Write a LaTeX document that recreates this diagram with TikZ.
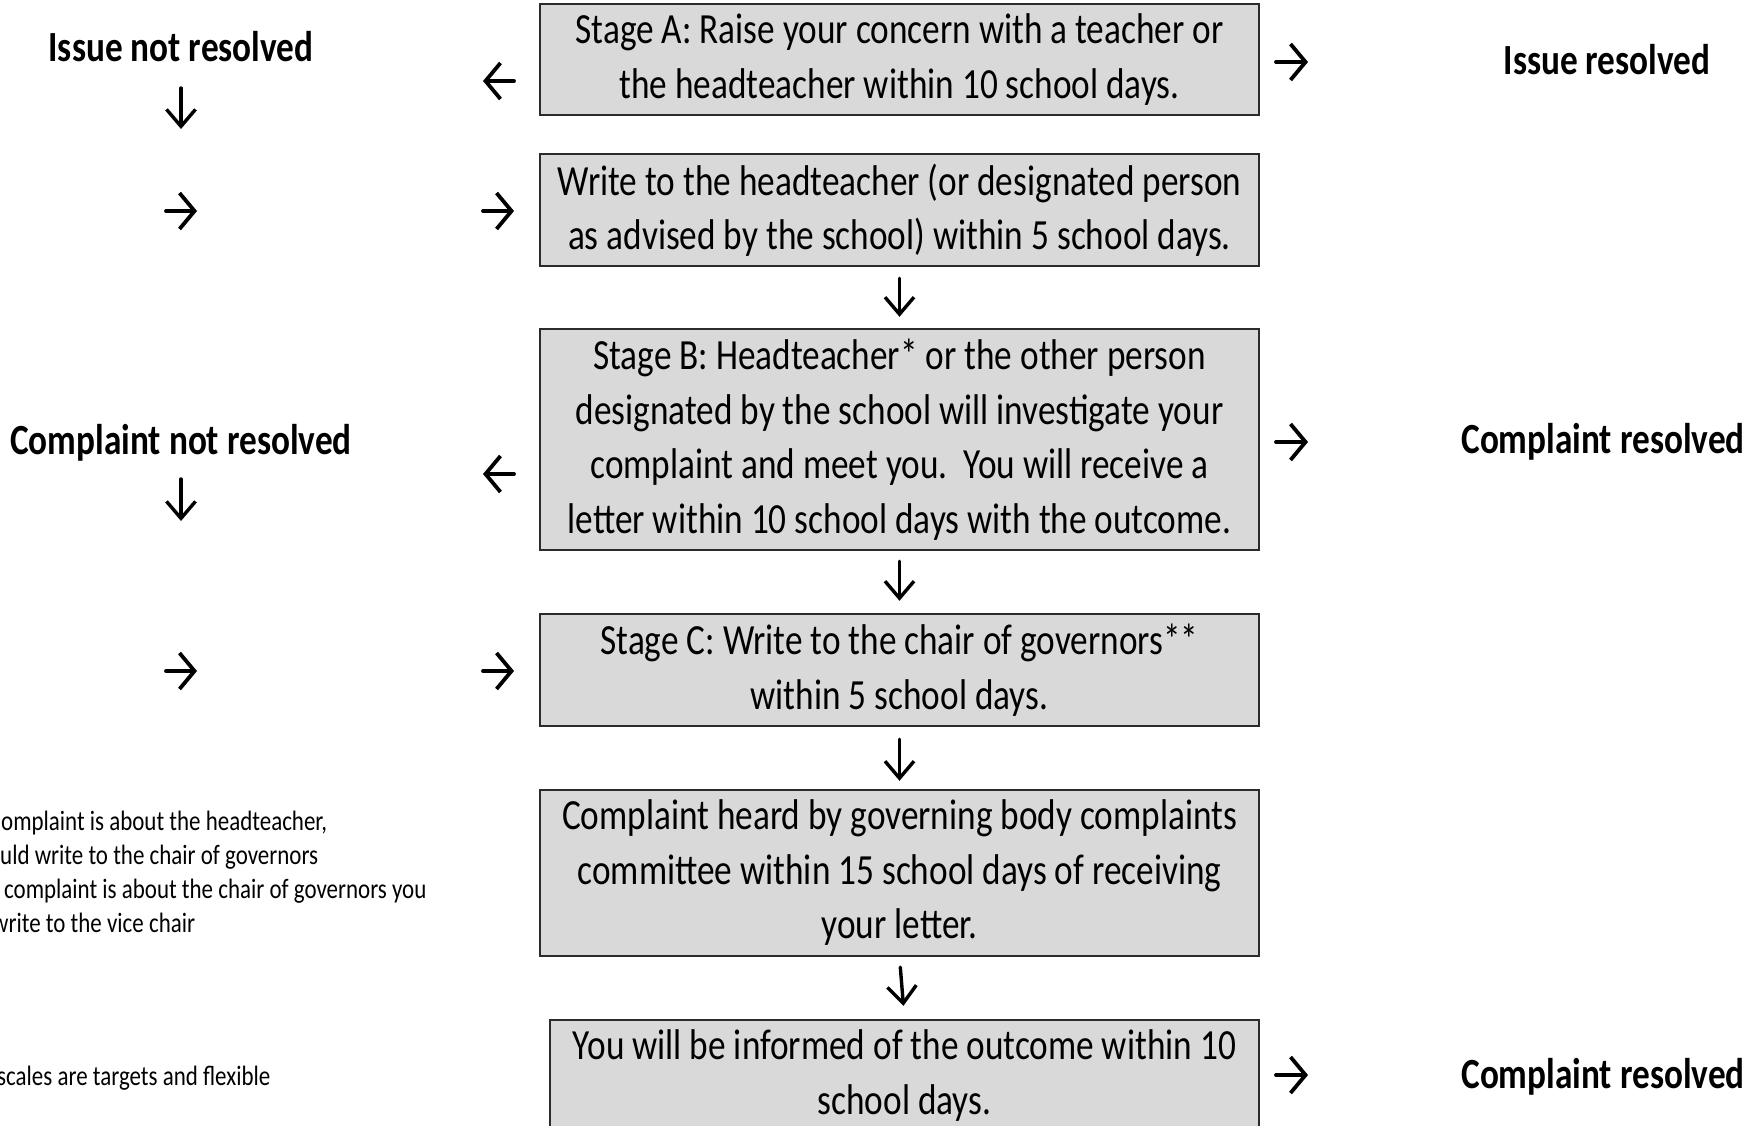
\documentclass[tikz,border=0pt]{standalone}
\usepackage{fontspec}
\setmainfont{Carlito}[FakeStretch=0.82]
\usetikzlibrary{arrows.meta}
\definecolor{boxgray}{HTML}{D9D9D9}
\definecolor{boxline}{HTML}{2B2B2B}
\begin{document}
\begin{tikzpicture}[x=1pt,y=-1pt,
 box/.style={draw=boxline, line width=2.4pt, fill=boxgray, inner sep=0pt, align=center,
   minimum width=719pt, font=\fontsize{43}{54.5}\selectfont},
 lbl/.style={font=\bfseries\fontsize{43}{52}\selectfont, inner sep=0pt, anchor=base},
 foot/.style={font=\fontsize{28}{34}\selectfont, inner sep=0pt, anchor=base west},
 harr/.style={line width=3.8pt, line cap=round, -{Straight Barb[length=15pt,width=36pt,line width=3.8pt]}},
 varr/.style={line width=3.4pt, line cap=round, -{Straight Barb[length=17pt,width=29pt,line width=3.4pt]}}]
\fill[white] (0,0) rectangle (1764,1126);
\useasboundingbox (0,0) rectangle (1764,1126);
\clip (0,0) rectangle (1764,1126);

% boxes
\node[box, minimum height=111pt] (sa) at (899.5,59.5) {Stage A: Raise your concern with a teacher or\\the headteacher within 10 school days.};
\node[box, minimum height=112pt] (sw) at (899.5,210) {Write to the headteacher (or designated person\\as advised by the school) within 5 school days.};
\node[box, minimum height=221pt] (sb) at (899.5,439.5) {Stage B: Headteacher* or the other person\\designated by the school will investigate your\\complaint and meet you.\ \ You will receive a\\letter within 10 school days with the outcome.};
\node[box, minimum height=112pt] (sc) at (899.5,670) {Stage C: Write to the chair of governors**\\within 5 school days.};
\node[box, minimum height=166pt] (sd) at (899.5,873) {Complaint heard by governing body complaints\\committee within 15 school days of receiving\\your letter.};
\node[box, minimum height=111pt, minimum width=709pt] (se) at (904.5,1075.5) {You will be informed of the outcome within 10\\school days.};

% labels
\node[lbl] (inr) at (181,62) {Issue not resolved};
\node[lbl] (cnr) at (181,454) {Complaint not resolved};
\node[lbl] (ir) at (1607,75) {Issue resolved};
\node[lbl] (cr1) at (1603,453) {Complaint resolved};
\node[lbl] (cr2) at (1603,1088) {Complaint resolved};

% footnotes (clipped at the left edge)
\node[foot] (fn1) at (1,830) {omplaint is about the headteacher,};
\node[foot] (fn2) at (0,864) {uld write to the chair of governors};
\node[foot] (fn3) at (4,898) {complaint is about the chair of governors you};
\node[foot] (fn4) at (-8,932) {write to the vice chair};
\node[foot] (fn5) at (-3,1085) {scales are targets and flexible};

% vertical arrows between boxes
\draw[varr, shorten <=11pt, shorten >=11pt] (sw.south) -- (sb.north);
\draw[varr, shorten <=10pt, shorten >=12pt] (sb.south) -- (sc.north);
\draw[varr, shorten <=12pt, shorten >=8pt] (sc.south) -- (sd.north);
\draw[varr, shorten <=10pt, shorten >=13pt] (sd.south) -- (se.north);

% left column down arrows
\coordinate (d1a) at (181,88);  \coordinate (d1b) at (181,129);
\coordinate (d2a) at (181,479); \coordinate (d2b) at (181,521);
\draw[varr] (d1a) -- (d1b);
\draw[varr] (d2a) -- (d2b);

% left column right arrows
\coordinate (r1a) at (166,211); \coordinate (r1b) at (197,211);
\coordinate (r2a) at (166,671); \coordinate (r2b) at (197,671);
\draw[harr] (r1a) -- (r1b);
\draw[harr] (r2a) -- (r2b);

% arrows next to the boxes on the left
\coordinate (la1a) at (514,81);  \coordinate (la1b) at (483,81);
\coordinate (la2a) at (514,474); \coordinate (la2b) at (483,474);
\draw[harr] (la1a) -- (la1b);
\draw[harr] (la2a) -- (la2b);
\coordinate (ra1a) at (483,211); \coordinate (ra1b) at (514,211);
\coordinate (ra2a) at (483,671); \coordinate (ra2b) at (514,671);
\draw[harr] (ra1a) -- (ra1b);
\draw[harr] (ra2a) -- (ra2b);

% arrows on the right side
\coordinate (rr1a) at (1276,62);   \coordinate (rr1b) at (1308,62);
\coordinate (rr2a) at (1276,442);  \coordinate (rr2b) at (1308,442);
\coordinate (rr3a) at (1276,1075); \coordinate (rr3b) at (1308,1075);
\draw[harr] (rr1a) -- (rr1b);
\draw[harr] (rr2a) -- (rr2b);
\draw[harr] (rr3a) -- (rr3b);
\end{tikzpicture}
\end{document}
